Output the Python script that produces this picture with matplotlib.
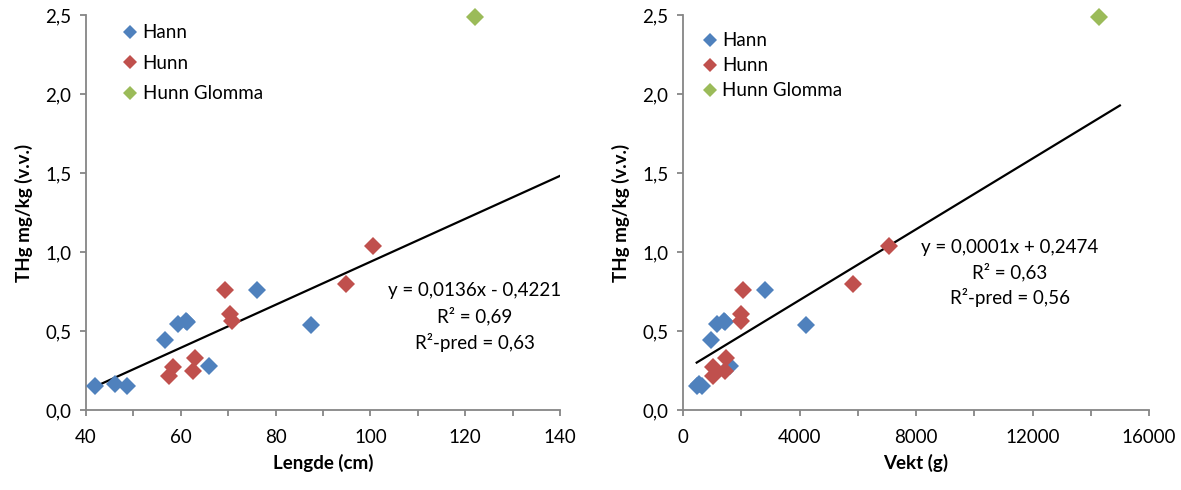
import matplotlib
matplotlib.use("Agg")
import matplotlib.pyplot as plt
from matplotlib.ticker import MultipleLocator, FuncFormatter
import numpy as np

plt.rcParams['font.family'] = ['Lato', 'DejaVu Sans']

# ---------------- data ----------------
hann_len = [41.9, 46.1, 48.7, 56.7, 59.4, 61.1, 61.4, 66.0, 76.0, 87.5]
hann_vekt = [470, 560, 645, 955, 1163, 1391, 1449, 1622, 2829, 4233]
hann_thg = [0.15, 0.165, 0.155, 0.44, 0.545, 0.565, 0.56, 0.28, 0.76, 0.54]

hunn_len = [57.5, 58.4, 62.6, 63.1, 69.3, 70.3, 70.9, 94.9, 100.5]
hunn_vekt = [1047, 1047, 1449, 1472, 2059, 2001, 2001, 5820, 7083]
hunn_thg = [0.215, 0.27, 0.25, 0.33, 0.76, 0.605, 0.565, 0.80, 1.035]

glomma_len = [122.1]
glomma_vekt = [14300]
glomma_thg = [2.485]

series_names = ["Hann", "Hunn", "Hunn Glomma"]
series_colors = ["#4F81BD", "#C0504D", "#9BBB59"]

# trend lines (slope, intercept, x end)
len_trend = (0.0136, -0.4221, 140)
vekt_trend = (0.000112, 0.2474, 15000)

len_eq = ["y = 0,0136x - 0,4221", "R² = 0,69", "R²-pred = 0,63"]
vekt_eq = ["y = 0,0001x + 0,2474", "R² = 0,63", "R²-pred = 0,56"]

ylabel = "THg mg/kg (v.v.)"
xlabel_len = "Lengde (cm)"
xlabel_vekt = "Vekt (g)"

# ---------------- figure ----------------
W, H = 1181, 490
fig = plt.figure(figsize=(W / 100, H / 100), dpi=100)

def px_axes(x0, x1, y_top, y_bot):
    return fig.add_axes([x0 / W, 1 - y_bot / H, (x1 - x0) / W, (y_bot - y_top) / H])

ax1 = px_axes(86, 560, 15, 410)
ax2 = px_axes(683, 1149, 15, 410)

FS = 13.5
grey = "#868686"
comma1 = FuncFormatter(lambda v, p: f"{v:.1f}".replace(".", ","))
intfmt = FuncFormatter(lambda v, p: f"{v:.0f}")


def style(ax, xmin, xmax, major, minor):
    ax.set_xlim(xmin, xmax)
    ax.set_ylim(0, 2.5)
    for s in ["top", "right"]:
        ax.spines[s].set_visible(False)
    for s in ["left", "bottom"]:
        ax.spines[s].set_color(grey)
        ax.spines[s].set_linewidth(1.3)
    ax.yaxis.set_major_locator(MultipleLocator(0.5))
    ax.yaxis.set_major_formatter(comma1)
    ax.xaxis.set_major_locator(MultipleLocator(major))
    ax.xaxis.set_minor_locator(MultipleLocator(minor))
    ax.xaxis.set_major_formatter(intfmt)
    ax.tick_params(axis="both", which="both", color=grey, width=1.3, length=4.5,
                   labelsize=FS, direction="out")
    ax.tick_params(axis="y", pad=6)
    ax.tick_params(axis="x", which="both", pad=9)
    ax.set_ylabel(ylabel, fontsize=FS, fontweight="bold", labelpad=9)


def scatter(ax, xs_list, ys_list):
    for xs, ys, name, c in zip(xs_list, ys_list, series_names, series_colors):
        ax.plot(xs, ys, linestyle="none", marker="D", markersize=9.3,
                color=c, markeredgewidth=0, label=name, zorder=3, clip_on=False)


# left
scatter(ax1, [hann_len, hunn_len, glomma_len], [hann_thg, hunn_thg, glomma_thg])
all_len = hann_len + hunn_len + glomma_len
xs = np.array([min(all_len), len_trend[2]])
ax1.plot(xs, len_trend[0] * xs + len_trend[1], color="black", lw=1.6, zorder=2)
style(ax1, 40, 140, 20, 10)
ax1.set_xlabel(xlabel_len, fontsize=FS, fontweight="bold", labelpad=6)
ax1.legend(loc="upper left", bbox_to_anchor=(0.066, 0.995), frameon=False,
           fontsize=FS, markerscale=0.72, handlelength=0.6, handletextpad=0.35,
           labelspacing=0.72, borderaxespad=0)
for i, line in enumerate(len_eq):
    ax1.text((475 - 86) / 474, 1 - (290 + 26 * i - 15) / 395, line,
             transform=ax1.transAxes, ha="center", va="center", fontsize=FS)

# right
scatter(ax2, [hann_vekt, hunn_vekt, glomma_vekt], [hann_thg, hunn_thg, glomma_thg])
all_v = hann_vekt + hunn_vekt + glomma_vekt
xs = np.array([min(all_v), vekt_trend[2]])
ax2.plot(xs, vekt_trend[0] * xs + vekt_trend[1], color="black", lw=1.6, zorder=2)
style(ax2, 0, 16000, 4000, 2000)
ax2.set_xlabel(xlabel_vekt, fontsize=FS, fontweight="bold", labelpad=6)
ax2.legend(loc="upper left", bbox_to_anchor=(0.03, 0.975), frameon=False,
           fontsize=FS, markerscale=0.72, handlelength=0.6, handletextpad=0.35,
           labelspacing=0.42, borderaxespad=0)
for i, line in enumerate(vekt_eq):
    ax2.text((1010 - 683) / 466, 1 - (247 + 25 * i - 15) / 395, line,
             transform=ax2.transAxes, ha="center", va="center", fontsize=FS)

fig.savefig("out.png", dpi=100)
